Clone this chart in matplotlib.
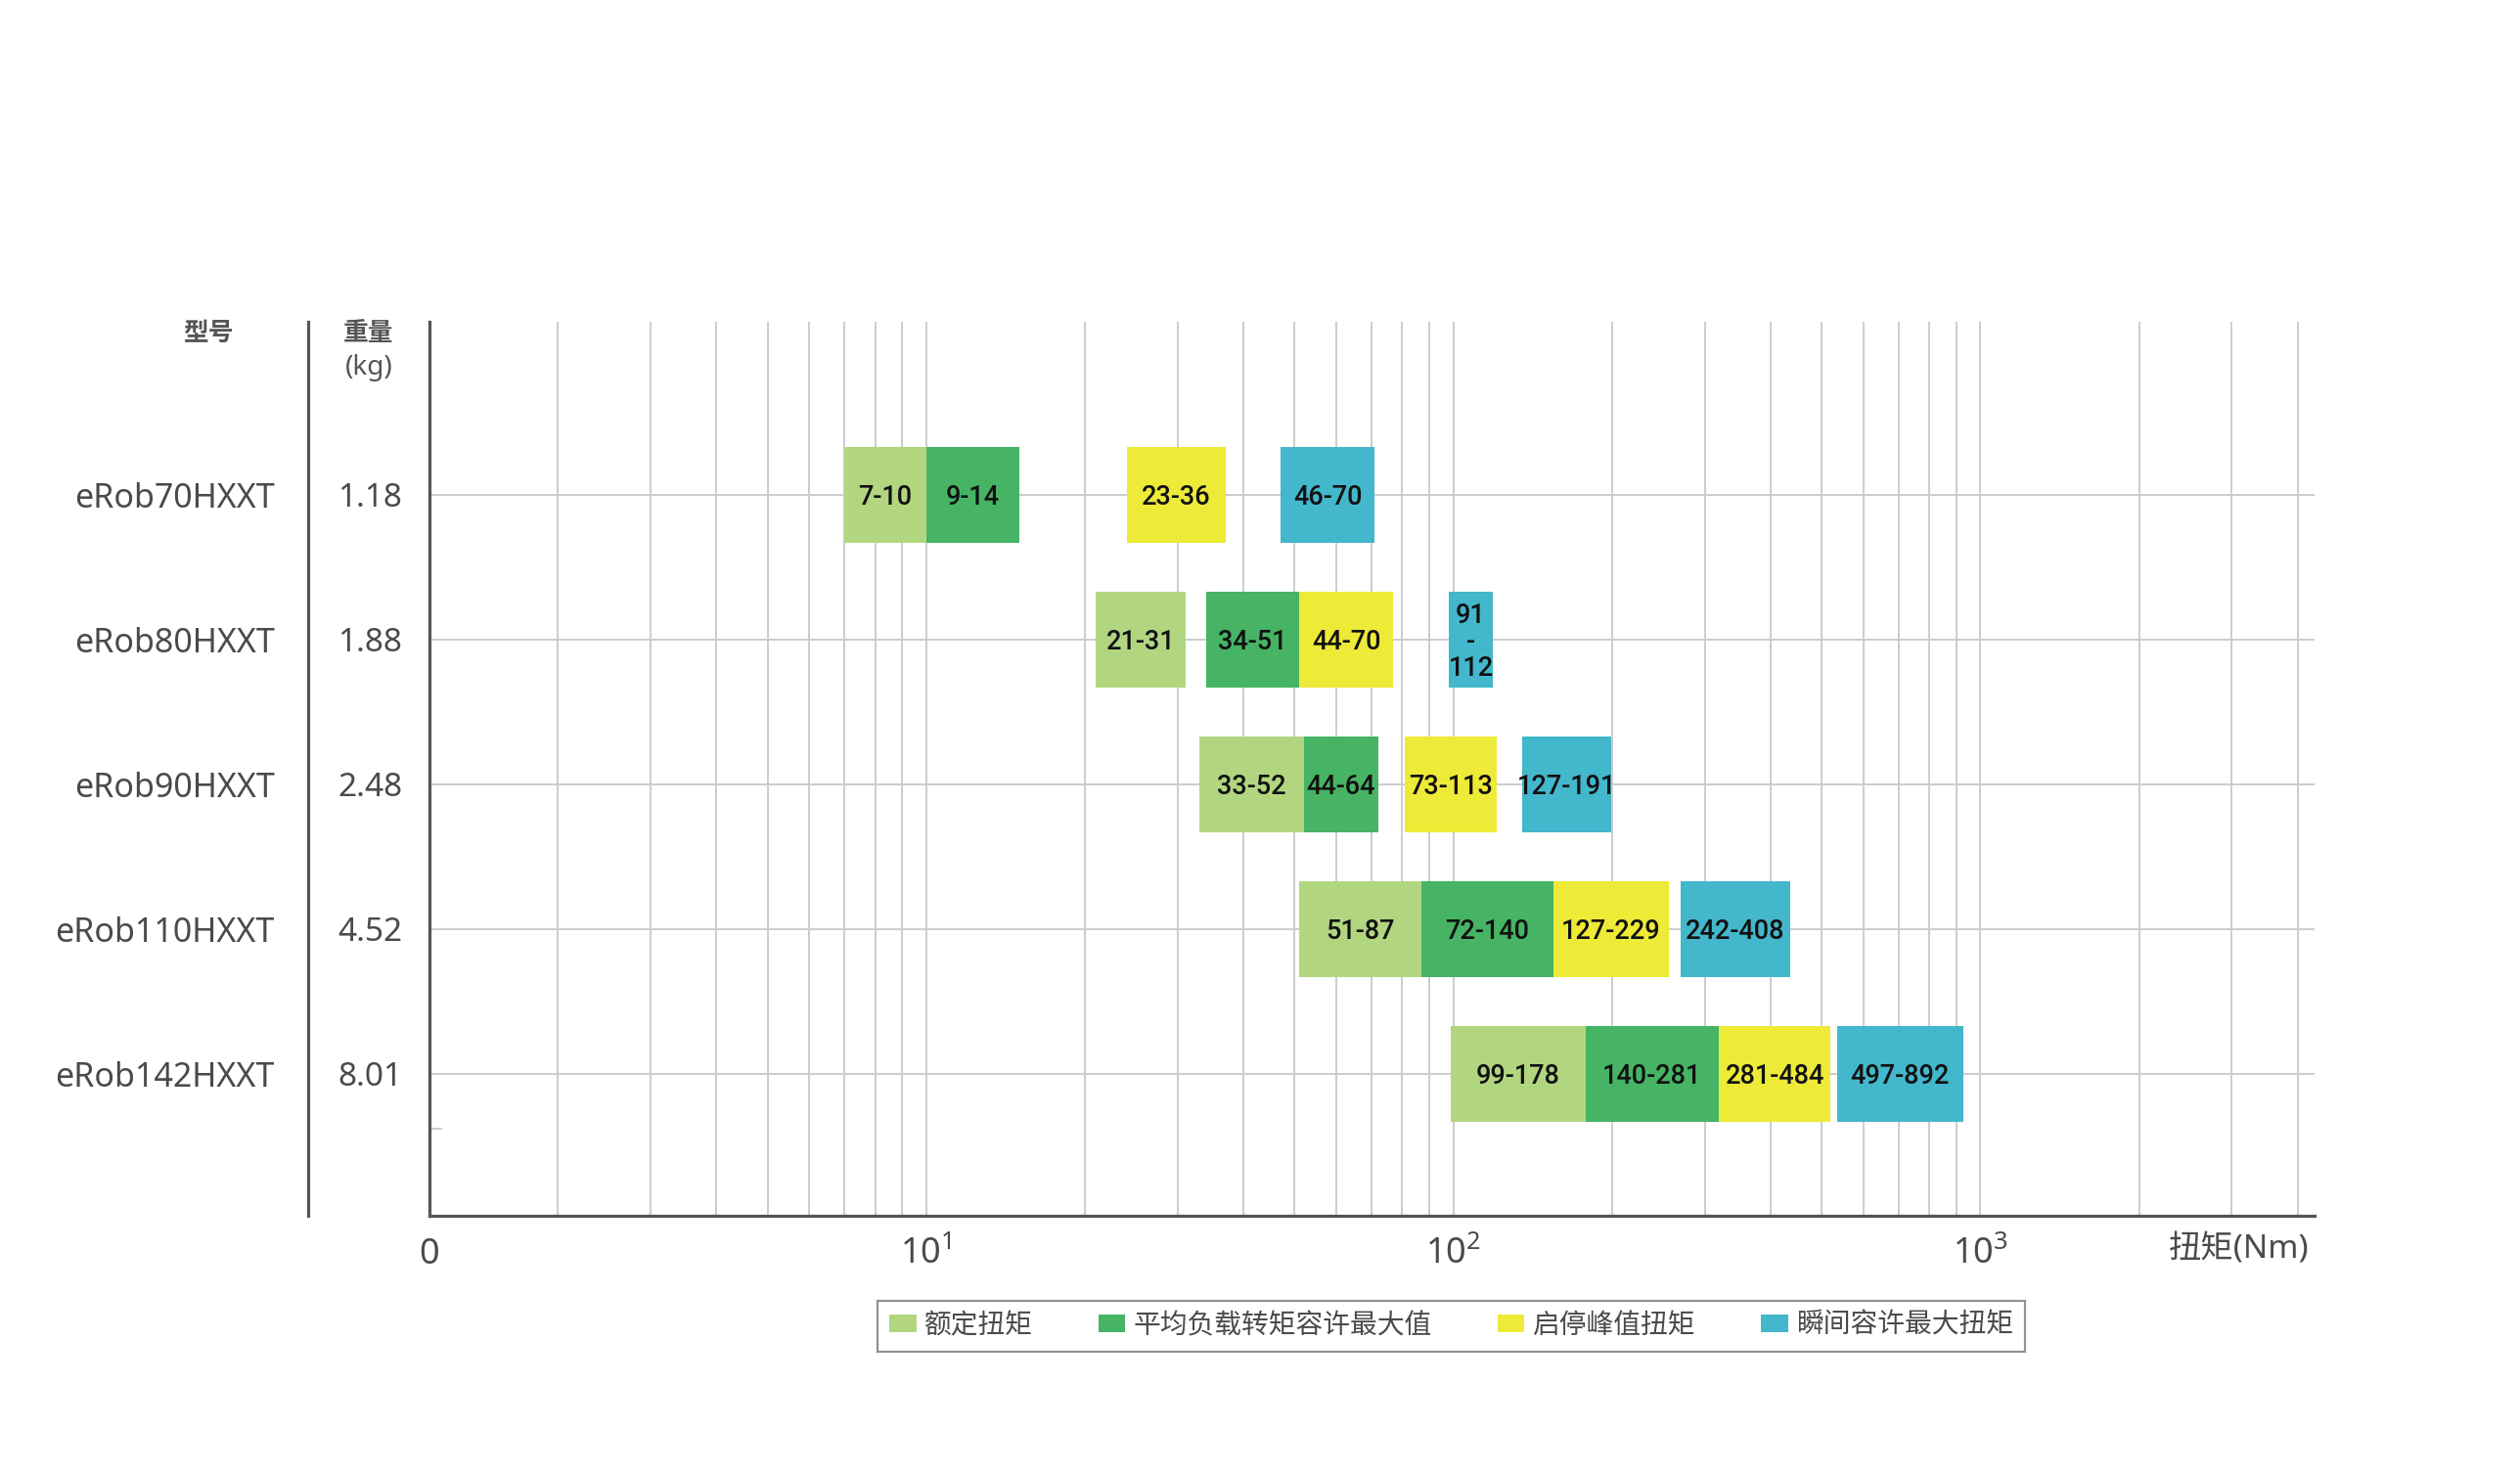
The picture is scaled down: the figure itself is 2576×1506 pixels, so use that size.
import matplotlib
matplotlib.use("Agg")
import matplotlib.pyplot as plt
from matplotlib.lines import Line2D
from matplotlib.patches import Patch
from matplotlib.ticker import NullFormatter
from matplotlib.transforms import blended_transform_factory

plt.rcParams['font.family'] = ['Noto Sans', 'Noto Sans CJK SC', 'DejaVu Sans']

# ---- data ----
models = ['eRob70HXXT', 'eRob80HXXT', 'eRob90HXXT', 'eRob110HXXT', 'eRob142HXXT']
weights = ['1.18', '1.88', '2.48', '4.52', '8.01']

series_names = ['额定扭矩', '平均负载转矩容许最大值', '启停峰值扭矩', '瞬间容许最大扭矩']
series_colors = ['#b2d680', '#46b464', '#edea38', '#43b7cb']

# bar extents as drawn (Nm)
rated_start = [7, 21, 33, 51, 99]
rated_end = [10, 31, 52, 87, 178]
avg_start = [10, 34, 52, 87, 178]
avg_end = [15, 51, 72, 155, 319]
peak_start = [24, 51, 81, 155, 319]
peak_end = [37, 77, 121, 256, 520]
mom_start = [47, 98, 135, 270, 535]
mom_end = [71, 119, 199, 436, 927]

# printed labels
rated_lbl = ['7-10', '21-31', '33-52', '51-87', '99-178']
avg_lbl = ['9-14', '34-51', '44-64', '72-140', '140-281']
peak_lbl = ['23-36', '44-70', '73-113', '127-229', '281-484']
mom_lbl = ['46-70', '91\n-\n112', '127-191', '242-408', '497-892']

x_min, x_max = 1.142, 4305
tick_vals = [x_min, 10, 100, 1000]
tick_lbls = ['0', r'$\mathdefault{10^{1}}$', r'$\mathdefault{10^{2}}$', r'$\mathdefault{10^{3}}$']

# ---- figure ----
W, H = 2576, 1506
fig = plt.figure(figsize=(W / 100, H / 100), dpi=100)
ax_l, ax_r, ax_t, ax_b = 439 / W, 2366 / W, 1 - 329 / H, 1 - 1243 / H
ax = fig.add_axes([ax_l, ax_b, ax_r - ax_l, ax_t - ax_b])

txt_col = '#4a4a4a'
line_col = '#555555'
grid_col = '#cccccc'

rows = list(range(len(models)))
bar_h = 0.66

starts = [rated_start, avg_start, peak_start, mom_start]
ends = [rated_end, avg_end, peak_end, mom_end]
labels = [rated_lbl, avg_lbl, peak_lbl, mom_lbl]

for s, e, lbl, col in zip(starts, ends, labels, series_colors):
    widths = [b - a for a, b in zip(s, e)]
    ax.barh(rows, widths, left=s, height=bar_h, color=col, zorder=3)
    for r, a, b, t in zip(rows, s, e, lbl):
        ax.text((a * b) ** 0.5, r + 0.015, t, ha='center', va='center', fontsize=19.5,
                family=['Roboto', 'DejaVu Sans'], fontweight='medium',
                color='#111111', zorder=4, linespacing=1.0)

for r in rows:
    ax.axhline(r, color=grid_col, lw=1.4, zorder=1)
# stray short tick below the last row
ax.axhline(4.378, xmin=0, xmax=12 / 1927, color=grid_col, lw=1.4, zorder=1)

ax.set_xscale('log')
ax.set_xlim(x_min, x_max)
ax.set_ylim(4.98, -1.196)

ax.set_xticks(tick_vals)
ax.set_xticklabels(tick_lbls)
ax.xaxis.set_minor_formatter(NullFormatter())
ax.tick_params(axis='x', which='both', length=0, pad=16, labelsize=26, labelcolor=txt_col)
ax.set_yticks([])
ax.grid(axis='x', which='both', color=grid_col, lw=1.4, zorder=0)
ax.set_axisbelow(True)

for side in ['top', 'right']:
    ax.spines[side].set_visible(False)
for side in ['left', 'bottom']:
    ax.spines[side].set_color(line_col)
    ax.spines[side].set_linewidth(2.3)
    ax.spines[side].set_zorder(5)

# left separator line
fig.add_artist(Line2D([315 / W, 315 / W], [ax_b, ax_t], transform=fig.transFigure,
                      color=line_col, lw=2.3))

# row labels
tr = blended_transform_factory(fig.transFigure, ax.transData)
for r, m, w in zip(rows, models, weights):
    ax.text(281 / W, r, m, transform=tr, ha='right', va='center_baseline', fontsize=24.5,
            color=txt_col)
    ax.text(378 / W, r, w, transform=tr, ha='center', va='center_baseline', fontsize=24,
            color=txt_col)

# headers
fig.text(213 / W, 1 - 341 / H, '型号', ha='center', va='center', fontsize=18.5,
         fontweight='bold', color='#555555')
fig.text(377 / W, 1 - 342 / H, '重量', ha='center', va='center', fontsize=18.5,
         fontweight='bold', color='#555555')
fig.text(377 / W, 1 - 376 / H, '(kg)', ha='center', va='center', fontsize=20, color='#555555')

# axis title
fig.text(2360 / W, 1 - 1278 / H, '扭矩(Nm)', ha='right', va='center', fontsize=24, color=txt_col)

# legend
handles = [Patch(facecolor=c, edgecolor='none') for c in series_colors]
leg = fig.legend(handles, series_names, loc='center', ncol=4,
                 bbox_to_anchor=(1483.5 / W, 1 - 1356 / H), fontsize=20,
                 frameon=True, fancybox=False, handlelength=1.0, handleheight=0.6,
                 handletextpad=0.3, columnspacing=2.4, borderpad=0.42)
leg.get_frame().set_edgecolor('#777777')
leg.get_frame().set_linewidth(1.6)
for t in leg.get_texts():
    t.set_color(txt_col)

fig.savefig('out.png', dpi=100, facecolor='white')
